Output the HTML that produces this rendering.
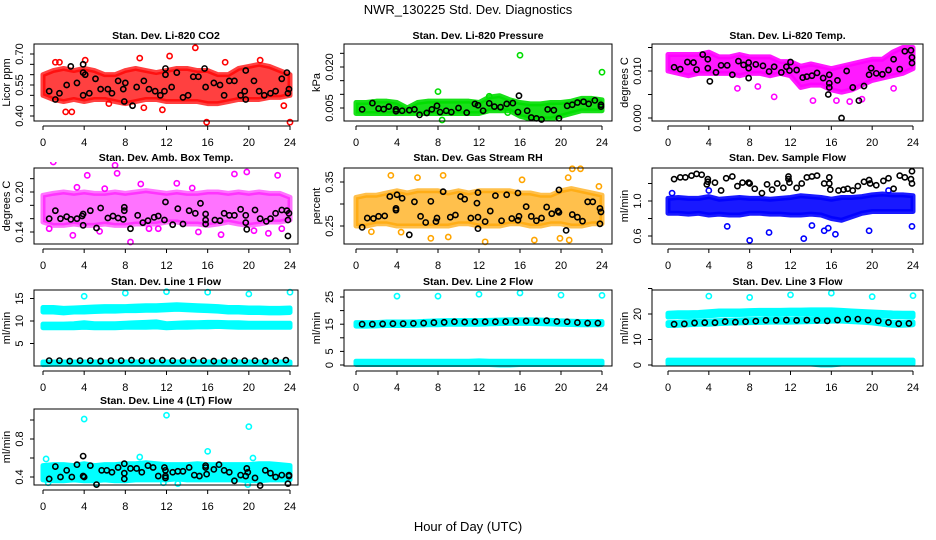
<!DOCTYPE html>
<html><head><meta charset="utf-8"><title>NWR_130225 Std. Dev. Diagnostics</title>
<style>
html,body{margin:0;padding:0;background:#fff;}
svg{display:block;font-family:"Liberation Sans",Arial,sans-serif;}
</style></head>
<body>
<svg id="chart" width="936" height="540" viewBox="0 0 936 540" xmlns="http://www.w3.org/2000/svg">
<text x="468" y="14" font-size="13" text-anchor="middle">NWR_130225  Std. Dev. Diagnostics</text>
<text x="468" y="531" font-size="13" text-anchor="middle">Hour of Day (UTC)</text>
</svg>
<script>
// ---------- data ----------
const hourTicks=[0,4,8,12,16,20,24];
const bandHours=[0,1,2,3,4,5,6,7,8,9,10,11,12,13,14,15,16,17,18,19,20,21,22,23,24];
const lineHours=[0.6,1.6,2.6,3.6,4.6,5.6,6.6,7.6,8.6,9.6,10.6,11.6,12.6,13.6,14.6,15.6,16.6,17.6,18.6,19.6,20.6,21.6,22.6,23.6];

// P1 CO2
const co2Lo=[.50,.48,.47,.48,.47,.48,.48,.47,.46,.47,.48,.48,.47,.47,.47,.47,.46,.46,.47,.48,.48,.48,.49,.49,.50];
const co2Hi=[.60,.62,.63,.62,.63,.62,.60,.60,.62,.63,.62,.61,.62,.63,.63,.62,.62,.60,.60,.63,.64,.65,.64,.62,.60];
const co2Out=[[2.2,.42],[2.8,.42],[1.6,.66],[4.1,.67],[9.4,.68],[12.3,.69],[14.8,.73],[17.7,.66],[11.6,.43],[15.9,.37],[24,.37],[9.8,.44],[23.4,.45],[6.4,.46],[1.2,.66],[21.1,.67]];
const co2Black=[[0.6,.52],[1.2,.48],[1.6,.51],[2.3,.55],[2.7,.64],[3.3,.56],[3.9,.61],[3.9,.65],[4.1,.6],[3.9,.5],[4.5,.51],[5.1,.58],[5.6,.53],[6.3,.53],[6.7,.51],[7.3,.57],[7.8,.53],[7.9,.47],[8,.56],[8.7,.45],[9.1,.54],[9.8,.57],[10.3,.53],[10.9,.52],[11.4,.5],[11.8,.52],[11.9,.6],[11.9,.63],[12.5,.54],[13,.61],[13.6,.49],[14.1,.5],[14.6,.59],[15.1,.59],[15.7,.63],[15.8,.54],[16.6,.56],[17.2,.55],[17.6,.5],[18.1,.57],[18.6,.57],[19.2,.5],[19.6,.52],[19.7,.48],[19.7,.62],[20.5,.57],[21,.52],[21.5,.5],[22.1,.51],[22.6,.52],[23.2,.58],[23.7,.61],[23.8,.51],[23.9,.53]];

// P2 Pressure
const prLo=[.003,.003,.003,.003,.003,.003,.003,.003,.003,.003,.003,.003,.003,.004,.004,.004,.002,.001,.001,.001,.002,.003,.004,.004,.004];
const prHi=[.007,.007,.0075,.0075,.007,.005,.007,.0075,.0075,.0075,.0075,.0075,.007,.009,.0095,.008,.007,.0065,.0065,.007,.007,.0075,.0085,.0085,.008];
const prOut=[[8,.011],[13,.0093],[16,.0243],[24,.0181],[8.4,.0006],[14.8,.0033]];
const prBlack=[[.6,.0045],[1.6,.0068],[2.2,.0048],[2.7,.0046],[3.2,.0055],[3.9,.0045],[3.9,.0038],[4.5,.004],[5.2,.0042],[5.7,.0045],[6.2,.0025],[6.9,.0032],[7.4,.0045],[7.9,.0058],[8.2,.0035],[8.8,.004],[9.3,.0035],[10,.005],[10.8,.0033],[11.6,.0065],[11.9,.006],[12.4,.004],[13,.0067],[13.5,.0055],[14.1,.0053],[14.7,.0065],[15.3,.0068],[15.9,.0095],[15.8,.0035],[16.7,.004],[17.1,.0015],[17.6,.0012],[18.1,.0008],[18.7,.0045],[19.3,.0042],[19.8,.0012],[20.6,.0058],[21.1,.0062],[21.6,.007],[22.2,.0073],[22.7,.0065],[23.3,.0078],[23.9,.0062],[23.9,.0055]];

// P3 Li-820 Temp
const ltLo=[.010,.0095,.009,.0095,.0095,.0095,.0095,.009,.0095,.0095,.009,.0095,.009,.0065,.007,.007,.006,.0055,.006,.007,.008,.0085,.009,.0095,.0105];
const ltHi=[.0135,.0135,.0135,.0135,.014,.013,.013,.0135,.013,.013,.013,.012,.012,.011,.0115,.011,.0105,.011,.0115,.012,.0125,.0125,.014,.015,.015];
const ltOut=[[10.4,.0045],[14.2,.0037],[17.8,.0035],[22.1,.0063],[6.8,.0063],[8.8,.0067],[16.5,.0037],[19,.004]];
const ltBlack=[[0.6,.0108],[1.2,.0104],[1.9,.0119],[2.5,.0118],[2.8,.0103],[3.4,.0135],[3.9,.0106],[3.9,.0125],[4.1,.0078],[4.7,.0097],[5.2,.0112],[5.8,.0112],[6.3,.0092],[6.9,.0121],[7.4,.0113],[7.9,.0118],[7.9,.0085],[7.9,.0106],[8.6,.0114],[9.3,.0111],[9.9,.0099],[10.4,.0109],[11.1,.0097],[11.6,.0109],[11.9,.0101],[12,.0119],[12.6,.0102],[13.2,.0086],[13.6,.0088],[14.1,.009],[14.6,.0096],[15.2,.0085],[15.8,.0092],[15.8,.0074],[15.8,.0065],[15.7,.005],[16.6,.008],[17,.0],[17.5,.01],[18.1,.0065],[18.7,.0037],[19.2,.0068],[19.7,.0092],[19.9,.0106],[20.4,.0095],[21,.0093],[21.6,.0102],[22.1,.0125],[22.7,.0104],[23.2,.0142],[23.8,.0144],[23.9,.0129],[23.9,.0117]];

// P4 Amb Box Temp
const abLo=[.155,.150,.150,.152,.150,.150,.152,.150,.150,.152,.152,.152,.155,.155,.152,.152,.150,.152,.155,.152,.150,.152,.155,.155,.158];
const abHi=[.195,.198,.200,.198,.200,.198,.198,.200,.198,.200,.202,.200,.198,.200,.198,.198,.200,.200,.198,.200,.198,.200,.198,.198,.192];
const abOut=[[1,.245],[4.3,.225],[7,.24],[7.2,.228],[18.6,.227],[22.8,.225],[19.8,.23],[8.5,.125],[2.9,.135],[17.3,.136],[15.1,.14],[10.3,.145],[6,.205],[9.5,.212],[13,.213],[0.6,.145],[20.5,.142],[23.2,.145],[3.3,.207],[11.2,.145],[14.5,.206],[21.9,.138],[5.5,.141]];
const abBlack=[[0.6,.16],[1.2,.172],[1.7,.16],[2.3,.163],[2.7,.159],[3.3,.16],[3.8,.164],[3.9,.167],[3.9,.15],[4.6,.172],[5.2,.146],[5.6,.176],[6.3,.161],[6.8,.164],[7.3,.161],[7.8,.159],[7.9,.177],[7.9,.172],[8.5,.145],[9.2,.165],[9.7,.154],[10.2,.157],[10.8,.162],[11.2,.164],[11.8,.158],[11.9,.185],[12.6,.151],[13.1,.175],[13.6,.152],[14.2,.172],[14.8,.168],[15.3,.183],[15.8,.167],[15.8,.158],[15.8,.152],[16.7,.158],[17.2,.157],[17.6,.168],[18.1,.165],[18.6,.165],[19.2,.174],[19.7,.165],[19.7,.154],[19.8,.144],[20.6,.173],[21.1,.16],[21.7,.156],[22.1,.16],[22.6,.168],[23.2,.173],[23.7,.172],[23.8,.158],[23.8,.134],[23.9,.168]];

// P5 Gas Stream RH
const rhLo=[.25,.25,.255,.255,.25,.25,.25,.25,.25,.25,.255,.255,.25,.25,.25,.255,.255,.25,.25,.255,.255,.25,.25,.255,.255];
const rhHi=[.315,.32,.32,.325,.33,.325,.33,.33,.33,.325,.33,.325,.33,.33,.33,.33,.325,.325,.32,.32,.33,.335,.33,.325,.32];
const rhOut=[[3.4,.365],[6,.36],[8.5,.365],[16.2,.355],[21.1,.38],[21.9,.38],[20.7,.36],[1.5,.237],[7.3,.222],[12.6,.214],[17.4,.218],[19.9,.222],[20.8,.218],[9,.225],[4.4,.236],[23.7,.34]];
const rhBlack=[[0.6,.247],[1.1,.268],[1.7,.267],[2.2,.272],[2.8,.273],[3.3,.317],[3.9,.286],[3.9,.29],[4,.321],[4.5,.313],[5.2,.23],[5.7,.305],[6.3,.272],[6.8,.258],[7.3,.306],[7.8,.26],[7.9,.268],[8.5,.328],[9.2,.27],[9.7,.275],[10.2,.317],[10.6,.311],[11.2,.268],[11.8,.302],[11.9,.326],[11.9,.27],[11.9,.244],[12.6,.26],[13.1,.284],[13.6,.319],[14.2,.262],[14.7,.321],[15.2,.267],[15.8,.263],[15.8,.325],[15.9,.272],[16.6,.294],[17.1,.272],[17.6,.262],[18.1,.268],[18.6,.293],[19.1,.278],[19.7,.284],[19.8,.281],[19.8,.332],[20.5,.24],[21.1,.276],[21.6,.27],[22.1,.261],[22.6,.305],[23.1,.305],[23.8,.29],[23.8,.255],[23.9,.282]];

// P6 Sample Flow
const sfLo=[.86,.86,.85,.86,.84,.85,.84,.84,.86,.86,.85,.85,.84,.84,.85,.84,.80,.78,.82,.86,.88,.88,.88,.88,.88];
const sfHi=[1.03,1.04,1.03,1.03,1.05,1.02,1.03,1.04,1.03,1.03,1.02,1.03,1.04,1.06,1.05,1.04,1.02,1.04,1.04,1.05,1.07,1.08,1.07,1.07,1.06];
const sfOut=[[8,.55],[9.9,.64],[13.3,.57],[14.1,.72],[16.4,.62],[19.7,.66],[23.9,.71],[5.8,.71],[15.3,.66],[15.7,.69],[4,1.12],[21.6,1.12],[0.4,1.09]];
const sfBlack=[[0.6,1.25],[1.2,1.27],[1.7,1.27],[2.3,1.29],[2.8,1.31],[3.3,1.3],[3.9,1.25],[3.9,1.22],[3.8,1.19],[4.6,1.21],[5.2,1.12],[5.7,1.26],[6.3,1.28],[6.8,1.17],[7.3,1.21],[7.9,1.21],[8,1.2],[8.5,1.14],[9.2,1.09],[9.7,1.19],[10.2,1.13],[10.7,1.2],[11.3,1.15],[11.8,1.28],[11.8,1.25],[11.9,1.21],[12.6,1.15],[13.1,1.2],[13.6,1.27],[14.1,1.28],[14.6,1.29],[15.3,1.2],[15.8,1.27],[15.8,1.2],[15.9,1.13],[16.7,1.12],[17.2,1.13],[17.6,1.14],[18.1,1.12],[18.6,1.17],[19.2,1.22],[19.7,1.24],[19.8,1.2],[20.4,1.18],[21.1,1.23],[21.6,1.26],[22.1,1.14],[22.7,1.29],[23.2,1.27],[23.8,1.25],[23.9,1.34],[23.9,1.2]];

// P7 Line 1 Flow
const l1UpLo=[12,12,11.8,12,12,12.1,12.2,12.2,12.3,12.3,12.4,12.4,12.5,12.6,12.5,12.4,12.3,12.2,12,12,11.9,11.9,11.8,11.8,11.9];
const l1UpHi=[13,13,12.8,12.9,13,13.1,13.2,13.2,13.2,13.3,13.4,13.4,13.5,13.6,13.5,13.4,13.3,13.2,13,13,12.9,12.9,12.8,12.8,12.9];
const l1MidLo=[8.5,8.5,8.5,8.5,8.6,8.5,8.5,8.5,8.6,8.6,8.6,8.7,8.5,8.6,8.6,8.7,8.7,8.8,8.7,8.6,8.6,8.6,8.6,8.6,8.6];
const l1MidHi=[9.3,9.3,9.3,9.4,9.6,9.4,9.4,9.4,9.5,9.6,9.7,9.8,9.4,9.5,9.6,9.6,9.7,9.7,9.6,9.6,9.5,9.5,9.5,9.5,9.5];
const l1LowLo=[0.3,0.4,0.4,0.4,0.4,0.4,0.4,0.4,0.4,0.4,0.4,0.4,0.4,0.4,0.4,0.4,0.4,0.4,0.4,0.4,0.4,0.4,0.4,0.4,0.4];
const l1LowHi=[0.9,0.9,0.9,0.9,0.9,0.9,0.9,0.9,0.9,0.9,0.9,0.9,0.9,0.9,0.9,0.9,0.9,0.9,0.9,0.9,0.9,0.9,0.9,0.9,0.9];
const l1Out=[[4,15.5],[8,16.2],[12,16.5],[16,16.4],[20,16],[24,16.4]];
const l1Black=[1.2,1.2,1.1,1.2,1.2,1.1,1.2,1.2,1.3,1.2,1.2,1.3,1.2,1.2,1.3,1.2,1.1,1.2,1.2,1.2,1.2,1.1,1.2,1.3];

// P8 Line 2 Flow
const l2Lo=[14.3,14.3,14.4,14.5,14.5,14.5,14.6,14.8,14.8,15,15,15,15,15.1,15.2,15.3,15.3,15.3,15.2,15.1,15,14.9,14.8,14.8,14.8];
const l2Hi=[15.6,15.6,15.6,15.8,15.8,15.8,15.9,16.1,16.2,16.3,16.3,16.3,16.3,16.4,16.5,16.6,16.6,16.6,16.5,16.4,16.2,16.1,16,16,16];
const l2LowLo=[0.2,0.2,0.2,0.2,0.2,0.2,0.2,0.2,0.2,0.2,0.2,0.2,0.2,0.2,0,0,0.2,0.2,0.2,0.2,0.2,0.2,0.2,0.2,0.2];
const l2LowHi=[1.4,1.4,1.4,1.4,1.4,1.4,1.4,1.4,1.4,1.4,1.4,1.4,1.5,1.4,1.4,1.4,1.4,1.4,1.4,1.4,1.4,1.4,1.4,1.4,1.4];
const l2Out=[[4,25.3],[8,25.3],[12,26],[16,26.5],[20,25.7],[24,25.6]];
const l2Black=[15,15,15.1,15.2,15.2,15.3,15.4,15.6,15.7,15.9,15.8,15.9,15.9,15.9,16,16.1,16.2,16.2,16.3,16,15.9,15.6,15.4,15.4];

// P9 Line 3 Flow
const l3UpLo=[18.8,18.9,19,19.1,19.3,19.6,19.8,19.8,19.9,20,20,20,20.1,20.1,20.2,20.2,20.2,20,19.9,19.6,19.4,19.2,19,18.9,18.9];
const l3UpHi=[20.3,20.5,20.5,20.6,20.9,21.2,21.2,21.2,21.3,21.4,21.4,21.4,21.5,21.5,21.6,21.6,21.6,21.4,21.2,21,20.8,20.6,20.4,20.3,20.3];
const l3MidLo=[15.5,15.6,15.8,16,16,16.2,16.4,16.5,16.6,16.7,16.8,16.8,16.8,16.9,17,17.1,17.2,17.2,17,16.8,16.5,16,15.6,15.6,15.8];
const l3MidHi=[16.6,16.7,17,17.1,17.2,17.4,17.6,17.7,17.8,17.9,18,18,18,18.1,18.2,18.3,18.4,18.4,18.2,18,17.6,17.2,16.8,16.7,16.9];
const l3LowLo=[0.4,0.4,0.4,0.4,0.4,0.4,0.4,0.4,0.4,0.4,0.4,0.4,0.4,0.4,0.4,0,0,0.4,0.4,0.4,0.4,0.4,0.4,0.4,0.4];
const l3LowHi=[1.9,1.9,1.9,1.9,1.9,1.9,1.9,1.9,1.9,1.9,1.9,1.9,1.9,1.9,1.9,1.9,1.9,1.9,1.9,1.9,1.9,1.9,1.9,1.9,1.9];
const l3Out=[[4,27],[8,26.5],[12,27.5],[16,28.2],[20,26.8],[24,27.2]];
const l3Black=[16,16.1,16.5,16.6,16.6,17,16.8,17,17.2,17.5,17.5,17.6,17.5,17.6,17.5,17.3,17.6,18,18,17.6,17.3,16.7,16.2,16.3];

// P10 Line 4 (LT) Flow
const l4Lo=[.37,.36,.36,.37,.36,.36,.37,.36,.36,.37,.37,.37,.37,.38,.37,.37,.37,.37,.37,.37,.36,.36,.37,.37,.37];
const l4Hi=[.52,.53,.53,.52,.54,.52,.53,.53,.54,.54,.55,.54,.53,.53,.53,.54,.53,.53,.53,.53,.53,.54,.54,.53,.52];
const l4Out=[[4,1.01],[12,1.05],[20,.93],[16,.67],[0.3,.59],[9.4,.61],[20.4,.6],[0.5,.34],[5.2,.33],[19.9,.32],[11.7,.34],[13.1,.33]];
const l4Black=[[0.6,.38],[1.2,.51],[1.7,.4],[2.3,.47],[2.8,.4],[3.3,.53],[3.9,.62],[3.9,.41],[4,.4],[4.6,.52],[5.2,.32],[5.7,.47],[6.2,.47],[6.7,.45],[7.3,.5],[7.9,.54],[7.9,.44],[7.9,.38],[8.5,.49],[9.1,.49],[9.6,.45],[10.2,.52],[10.7,.5],[11.2,.41],[11.8,.5],[11.9,.47],[11.9,.41],[11.9,.39],[12.6,.45],[13.1,.46],[13.6,.46],[14.2,.5],[14.7,.42],[15.2,.41],[15.8,.52],[15.8,.5],[15.9,.43],[16.6,.48],[17.1,.53],[17.6,.47],[18.1,.45],[18.6,.36],[19.2,.42],[19.7,.41],[19.8,.49],[19.9,.45],[20.6,.39],[21.1,.31],[21.6,.47],[22.1,.44],[22.6,.4],[23.2,.42],[23.8,.33],[23.9,.41],[23.9,.42]];

// ---------- layout (positions only) ----------
const colsL=[{L:34,R:298,x0:43,x24:290},{L:344,R:612,x0:356,x24:602},{L:652,R:923,x0:668,x24:913}];
const rowsL=[{T:44,B:121,title:39,lab:142},{T:168,B:244,title:161,lab:265},{T:290,B:366,title:285,lab:387},{T:409,B:485,title:404,lab:506}];

const NS="http://www.w3.org/2000/svg";
const svg=document.getElementById('chart');
function mk(tag,attrs,parent){const e=document.createElementNS(NS,tag);for(const k in attrs)e.setAttribute(k,attrs[k]);(parent||svg).appendChild(e);return e;}

const panels=[
 {key:'co2',title:'Stan. Dev. Li-820 CO2',ylab:'Licor ppm',c:0,r:0,cal:[.7,54,.4,116],ticks:[.4,.45,.5,.55,.6,.65,.7],labs:{0.4:'0.40',0.55:'0.55',0.7:'0.70'},color:'#ff0000',bands:[[co2Lo,co2Hi]],op:0.75,out:co2Out,black:co2Black},
 {key:'pressure',title:'Stan. Dev. Li-820 Pressure',ylab:'kPa',c:1,r:0,cal:[.02,67,.005,108],ticks:[.005,.01,.015,.02,.025],labs:{0.005:'0.005',0.02:'0.020'},color:'#00dd00',bands:[[prLo,prHi]],op:0.9,out:prOut,black:prBlack},
 {key:'li820temp',title:'Stan. Dev. Li-820 Temp.',ylab:'degrees C',c:2,r:0,cal:[.01,71,0,118],ticks:[0,.005,.01,.015],labs:{0:'0.000',0.01:'0.010'},color:'#ff00ff',bands:[[ltLo,ltHi]],op:0.9,out:ltOut,black:ltBlack},
 {key:'ambbox',title:'Stan. Dev. Amb. Box Temp.',ylab:'degrees C',c:0,r:1,cal:[.2,192,.14,232],ticks:[.14,.16,.18,.2,.22],labs:{0.14:'0.14',0.2:'0.20'},color:'#ff00ff',bands:[[abLo,abHi]],op:0.55,out:abOut,black:abBlack},
 {key:'rh',title:'Stan. Dev. Gas Stream RH',ylab:'percent',c:1,r:1,cal:[.35,182,.25,226],ticks:[.25,.3,.35],labs:{0.25:'0.25',0.35:'0.35'},color:'#ffa500',bands:[[rhLo,rhHi]],op:0.7,out:rhOut,black:rhBlack},
 {key:'sampleflow',title:'Stan. Dev. Sample Flow',ylab:'ml/min',c:2,r:1,cal:[1,201,.6,236],ticks:[.6,.8,1,1.2],labs:{0.6:'0.6',1:'1.0'},color:'#0000ff',bands:[[sfLo,sfHi]],op:0.9,out:sfOut,black:sfBlack},
 {key:'line1',title:'Stan. Dev. Line 1 Flow',ylab:'ml/min',c:0,r:2,cal:[15,298.5,0,366],ticks:[5,10,15],labs:{5:'5',10:'10',15:'15'},color:'#00ffff',bands:[[l1UpLo,l1UpHi],[l1MidLo,l1MidHi],[l1LowLo,l1LowHi]],op:1,out:l1Out,lineBlack:l1Black},
 {key:'line2',title:'Stan. Dev. Line 2 Flow',ylab:'ml/min',c:1,r:2,cal:[25,297,0,365],ticks:[0,5,10,15,20,25],labs:{0:'0',5:'5',15:'15',25:'25'},color:'#00ffff',bands:[[l2Lo,l2Hi],[l2LowLo,l2LowHi]],op:1,out:l2Out,lineBlack:l2Black},
 {key:'line3',title:'Stan. Dev. Line 3 Flow',ylab:'ml/min',c:2,r:2,cal:[20,314,0,365],ticks:[0,10,20,30],labs:{0:'0',10:'10',20:'20'},color:'#00ffff',bands:[[l3UpLo,l3UpHi],[l3MidLo,l3MidHi],[l3LowLo,l3LowHi]],op:1,out:l3Out,lineBlack:l3Black},
 {key:'line4',title:'Stan. Dev. Line 4 (LT) Flow',ylab:'ml/min',c:0,r:3,cal:[.8,439,.4,477],ticks:[.4,.6,.8,1],labs:{0.4:'0.4',0.8:'0.8'},color:'#00ffff',bands:[[l4Lo,l4Hi]],op:1,out:l4Out,black:l4Black}
];

panels.forEach(p=>{
  const C=colsL[p.c],R=rowsL[p.r];
  const xs=h=>C.x0+(C.x24-C.x0)*h/24;
  const [va,pa,vb,pb]=p.cal;
  const ys=v=>pa+(v-va)*(pb-pa)/(vb-va);
  const g=mk('g',{});
  
  
  const cid='clip-'+p.key;
  const cp=mk('clipPath',{id:cid},g);
  mk('rect',{x:C.L,y:R.T-6,width:C.R-C.L+6,height:R.B-R.T+12},cp);
  const t=mk('text',{x:(C.L+C.R)/2,y:R.title,'font-size':10.5,'font-weight':'bold','text-anchor':'middle'},g);
  t.textContent=p.title;
  
  
  const marks=mk('g',{'clip-path':'url(#'+cid+')'},g);
  
  
  p.bands.forEach(([lo,hi])=>{
    let pts=bandHours.map((h,i)=>xs(h)+','+ys(hi[i]));
    pts=pts.concat(bandHours.slice().reverse().map((h,j)=>xs(h)+','+ys(lo[lo.length-1-j])));
    const b=mk('polygon',{points:pts.join(' '),fill:p.color,'fill-opacity':p.op,stroke:p.color,'stroke-opacity':p.op,'stroke-width':5,'stroke-linejoin':'round'},marks);
    
    
  });
  p.out.forEach(([h,v])=>{
    const c=mk('circle',{cx:xs(h),cy:ys(v),r:2.6,fill:'none',stroke:p.color,'stroke-width':1.6},marks);
    
    
  });
  const blk=p.black?p.black:lineHours.map((h,i)=>[h,p.lineBlack[i]]);
  blk.forEach(([h,v])=>{
    const c=mk('circle',{cx:xs(h),cy:ys(v),r:2.6,fill:'none',stroke:'#000','stroke-width':1.6},marks);
    
    
  });
  const box=mk('rect',{x:C.L,y:R.T,width:C.R-C.L,height:R.B-R.T,fill:'none',stroke:'#000','stroke-width':1},g);
  
  
  const ax=R.B+5;
  const xa=mk('g',{},g);
  
  
  mk('line',{x1:xs(0),x2:xs(24),y1:ax,y2:ax,stroke:'#000'},xa);
  hourTicks.forEach(h=>{
    mk('line',{x1:xs(h),x2:xs(h),y1:ax,y2:ax+4,stroke:'#000'},xa);
    const tl=mk('text',{x:xs(h),y:R.lab+4,'font-size':11,'text-anchor':'middle'},xa);
    tl.textContent=h;
    
    
  });
  const ya=mk('g',{},g);
  
  
  const tv=p.ticks.map(ys);
  mk('line',{x1:C.L,x2:C.L,y1:Math.min(...tv),y2:Math.max(...tv),stroke:'#000'},ya);
  p.ticks.forEach(v=>{
    const y=ys(v);
    mk('line',{x1:C.L-4,x2:C.L,y1:y,y2:y,stroke:'#000'},ya);
    const lab=p.labs[v];
    if(lab!==undefined){
      const tl=mk('text',{x:C.L-11,y:y,'font-size':11,'text-anchor':'middle',transform:'rotate(-90 '+(C.L-11)+' '+y+')'},ya);
      tl.textContent=lab;
      
      
    }
  });
  const yc=(R.T+R.B)/2;
  const yt=mk('text',{x:C.L-24,y:yc,'font-size':11,'text-anchor':'middle',transform:'rotate(-90 '+(C.L-24)+' '+yc+')'},g);
  yt.textContent=p.ylab;
  
  
});
</script>
</body></html>
